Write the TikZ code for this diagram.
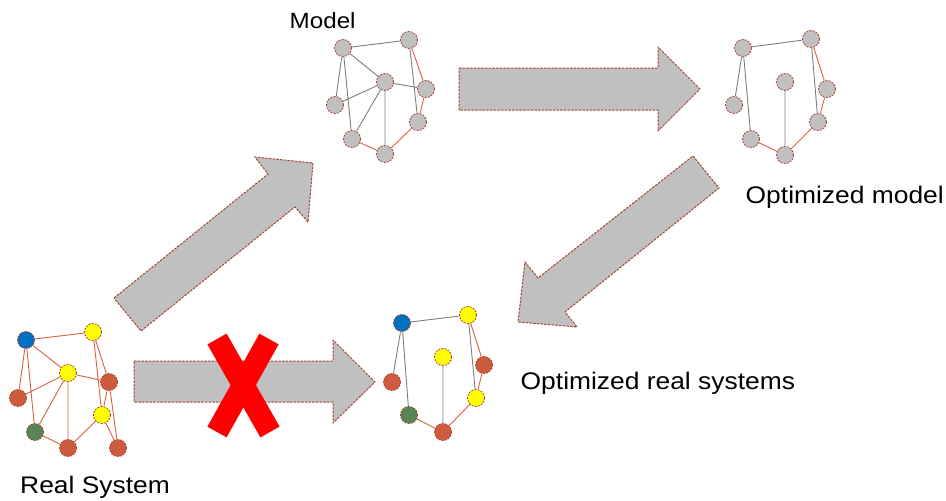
\documentclass[tikz,border=0pt]{standalone}
\usepackage{fontspec}
\newfontfamily\labelfont[FakeStretch=1.1]{Liberation Sans}
\definecolor{nodegray}{RGB}{192,192,192}
\definecolor{rim}{RGB}{165,70,50}
\definecolor{blu}{RGB}{0,112,192}
\definecolor{yel}{RGB}{255,255,0}
\definecolor{rd}{RGB}{205,92,62}
\definecolor{grn}{RGB}{88,132,88}
\definecolor{redline}{RGB}{215,95,65}
\definecolor{grayline}{RGB}{125,125,125}
\begin{document}
\begin{tikzpicture}[x=1pt,y=-1pt,
	vtx/.style={draw=rim,circle,dash pattern=on 2pt off 1.2pt,line width=0.8pt,minimum size=17pt,inner sep=0pt},
	rl/.style={draw=redline,line width=0.9pt},
	gl/.style={draw=grayline,line width=0.9pt},
	bigarrow/.style={fill=nodegray,draw=rim,dash pattern=on 2.5pt off 1.2pt,line width=1pt},
	lbl/.style={font=\labelfont\fontsize{24}{28}\selectfont,inner sep=0pt,anchor=base west}]
	\useasboundingbox (0,0) rectangle (946,501);
	% big arrows
	\draw[bigarrow] (114,298) -- (268,174) -- (255,157) -- (313,163) -- (308,222) -- (295,207) -- (141,331) -- cycle;
	\draw[bigarrow] (459,68) -- (658,68) -- (658,47) -- (700,89) -- (658,131) -- (658,110) -- (459,110) -- cycle;
	\draw[bigarrow] (693,156) -- (719,188) -- (565,312) -- (577,327) -- (518,322) -- (525,262) -- (538,278) -- cycle;
	\draw[bigarrow] (134,361) -- (333,361) -- (333,340) -- (375,382) -- (333,423) -- (333,402) -- (134,402) -- cycle;
	% cross
	\draw[red,line width=22pt] (217,339) -- (270,432);
	\draw[red,line width=22pt] (269,339) -- (217,432);
	% real system
	\node[vtx,fill=blu] (rA) at (26,340) {};
	\node[vtx,fill=yel] (rB) at (93,332) {};
	\node[vtx,fill=yel] (rC) at (68,373) {};
	\node[vtx,fill=rd] (rD) at (109,382) {};
	\node[vtx,fill=rd] (rE) at (18,398) {};
	\node[vtx,fill=yel] (rF) at (102,415) {};
	\node[vtx,fill=grn] (rG) at (35,432) {};
	\node[vtx,fill=rd] (rH) at (68,448) {};
	\node[vtx,fill=rd] (rI) at (118,448) {};
	\draw[rl] (rA)--(rB) (rA)--(rC) (rA)--(rE) (rA)--(rG) (rB)--(rD) (rB)--(rF) (rC)--(rD) (rC)--(rE);
	\draw[rl] (rC)--(rG) (rC)--(rH) (rD)--(rF) (rD)--(rI) (rF)--(rH) (rF)--(rI) (rG)--(rH);
	% model
	\node[vtx,fill=nodegray] (mA) at (343,48) {};
	\node[vtx,fill=nodegray] (mB) at (409,40) {};
	\node[vtx,fill=nodegray] (mC) at (385,82) {};
	\node[vtx,fill=nodegray] (mD) at (426,89) {};
	\node[vtx,fill=nodegray] (mE) at (335,105) {};
	\node[vtx,fill=nodegray] (mF) at (418,122) {};
	\node[vtx,fill=nodegray] (mG) at (352,139) {};
	\node[vtx,fill=nodegray] (mH) at (385,154) {};
	\draw[gl] (mA)--(mB) (mA)--(mC) (mA)--(mE) (mA)--(mG) (mC)--(mE) (mC)--(mG) (mC)--(mD) (mC)--(mH) (mB)--(mF);
	\draw[rl] (mB)--(mD) (mD)--(mF) (mF)--(mH) (mG)--(mH);
	% optimized model
	\node[vtx,fill=nodegray] (oA) at (743,48) {};
	\node[vtx,fill=nodegray] (oB) at (811,39) {};
	\node[vtx,fill=nodegray] (oC) at (785,82) {};
	\node[vtx,fill=nodegray] (oD) at (827,89) {};
	\node[vtx,fill=nodegray] (oE) at (734,105) {};
	\node[vtx,fill=nodegray] (oF) at (818,122) {};
	\node[vtx,fill=nodegray] (oG) at (751,139) {};
	\node[vtx,fill=nodegray] (oH) at (785,155) {};
	\draw[gl] (oA)--(oB) (oA)--(oE) (oA)--(oG) (oC)--(oH) (oB)--(oF);
	\draw[rl] (oB)--(oD) (oD)--(oF) (oF)--(oH) (oG)--(oH);
	% optimized real system
	\node[vtx,fill=blu] (sA) at (402,323) {};
	\node[vtx,fill=yel] (sB) at (468,315) {};
	\node[vtx,fill=yel] (sC) at (443,357) {};
	\node[vtx,fill=rd] (sD) at (484,365) {};
	\node[vtx,fill=rd] (sE) at (392,382) {};
	\node[vtx,fill=yel] (sF) at (476,398) {};
	\node[vtx,fill=grn] (sG) at (409,415) {};
	\node[vtx,fill=rd] (sH) at (443,432) {};
	\draw[gl] (sA)--(sB) (sA)--(sE) (sA)--(sG) (sC)--(sH) (sB)--(sF);
	\draw[rl] (sB)--(sD) (sD)--(sF) (sF)--(sH) (sG)--(sH);
	% labels
	\node[lbl,font=\labelfont\fontsize{22}{26}\selectfont] (tModel) at (289.5,28) {Model};
	\node[lbl] (tOptModel) at (745.5,203) {Optimized model};
	\node[lbl] (tOptReal) at (520.5,389) {Optimized real systems};
	\node[lbl] (tReal) at (20,493) {Real System};
\end{tikzpicture}
\end{document}
